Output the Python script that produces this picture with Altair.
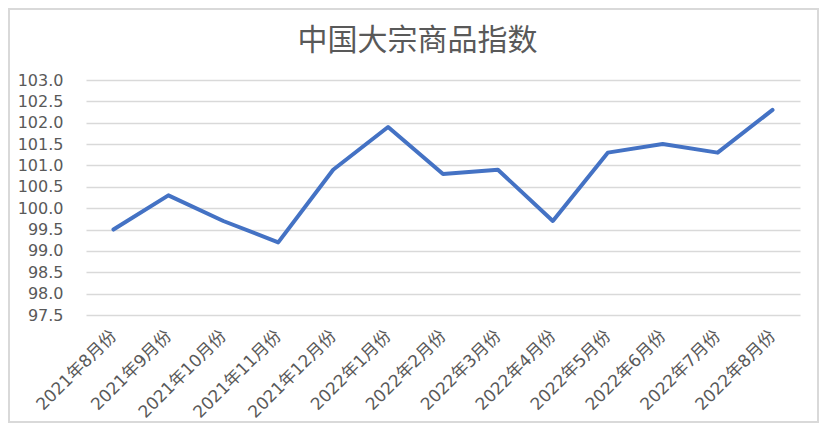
import altair as alt
import pandas as pd

months = ["2021年8月份", "2021年9月份", "2021年10月份", "2021年11月份", "2021年12月份",
          "2022年1月份", "2022年2月份", "2022年3月份", "2022年4月份", "2022年5月份",
          "2022年6月份", "2022年7月份", "2022年8月份"]
values = [99.5, 100.3, 99.7, 99.2, 100.9, 101.9, 100.8, 100.9, 99.7, 101.3, 101.5, 101.3, 102.3]
title_text = ["中国大宗商品指数"]

df = pd.DataFrame({"month": months, "value": values})
tdf = pd.DataFrame({"t": title_text})

W, H = 714, 235
PL, PT, PR, PB = 78, 72, 19, 108

line = alt.Chart(df).mark_line(color="#4472C4", strokeWidth=4, strokeCap="round", strokeJoin="round").encode(
    x=alt.X("month:N", sort=months, title=None,
            scale=alt.Scale(type="point", padding=0.5),
            axis=alt.Axis(labelAngle=-45, labelAlign="right", labelBaseline="middle",
                          labelFontSize=17, labelColor="#595959",
                          labelFont="DejaVu Sans, Noto Sans CJK SC",
                          ticks=False, domain=False, grid=False, labelPadding=18)),
    y=alt.Y("value:Q", title=None,
            scale=alt.Scale(domain=[97.5, 103.0], nice=False, zero=False),
            axis=alt.Axis(values=[97.5 + 0.5 * i for i in range(12)], format=".1f",
                          labelFontSize=16, labelColor="#595959", labelFont="DejaVu Sans",
                          ticks=False, domain=False, gridColor="#d9d9d9", gridWidth=1.5,
                          labelPadding=23)),
)

title = alt.Chart(tdf).mark_text(fontSize=30, font="Noto Sans CJK SC", color="#595959",
                                 align="center", baseline="middle").encode(
    text="t:N", x=alt.value(417.5 - 86), y=alt.value(41 - 80),
)

frame = alt.Chart(tdf).mark_rect(fill=None, stroke="#d9d9d9", strokeWidth=2).encode(
    x=alt.value(-PL + 1), x2=alt.value(W + PR - 1),
    y=alt.value(-PT + 1), y2=alt.value(H + PB - 1),
)

chart = alt.layer(line, title, frame).properties(
    width=W, height=H,
    padding={"left": PL, "top": PT, "right": PR, "bottom": PB},
    autosize=alt.AutoSizeParams(type="none"),
).configure_view(stroke=None)

chart.save("out.html", embed_options={"renderer": "svg", "actions": False})
